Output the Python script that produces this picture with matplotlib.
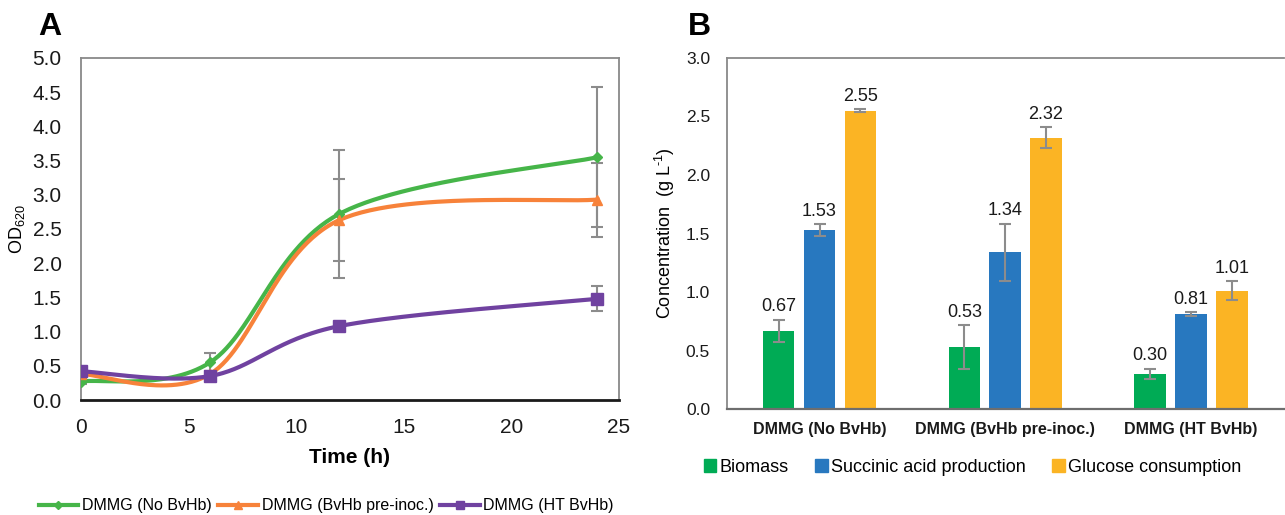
import numpy as np
import matplotlib
matplotlib.use("Agg")
import matplotlib.pyplot as plt
from matplotlib.lines import Line2D
from matplotlib.patches import Patch

plt.rcParams["font.family"] = ["Liberation Sans", "DejaVu Sans"]
plt.rcParams["mathtext.fontset"] = "custom"
plt.rcParams["mathtext.rm"] = "Liberation Sans"

# panel A: growth curves
time_h = [0, 6, 12, 24]
od_no = [0.27, 0.55, 2.72, 3.55]
od_no_err = [0.04, 0.13, 0.93, 1.02]
od_pre = [0.38, 0.38, 2.63, 2.93]
od_pre_err = [0.03, 0.03, 0.60, 0.54]
od_ht = [0.42, 0.35, 1.08, 1.48]
od_ht_err = [0.05, 0.02, 0.03, 0.18]
series_names = ["DMMG (No BvHb)", "DMMG (BvHb pre-inoc.)", "DMMG (HT BvHb)"]

# panel B: concentrations
groups = ["DMMG (No BvHb)", "DMMG (BvHb pre-inoc.)", "DMMG (HT BvHb)"]
biomass = [0.67, 0.53, 0.30]
biomass_err = [0.095, 0.19, 0.045]
succinic = [1.53, 1.34, 0.81]
succinic_err = [0.05, 0.245, 0.015]
glucose = [2.55, 2.32, 1.01]
glucose_err = [0.01, 0.09, 0.08]
bar_names = ["Biomass", "Succinic acid production", "Glucose consumption"]

GREEN_L, ORANGE_L, PURPLE_L = "#46B549", "#F7823A", "#7042A0"
GREEN_B, BLUE_B, YELLOW_B = "#00AB55", "#2878BF", "#FBB424"
ERR = "#8C8C8C"
SPINE = "#898989"


def smooth(xs, ys, n=60):
    # excel-like smoothed line: bezier through points, catmull-rom controls
    p = np.column_stack([xs, ys]).astype(float)
    ext = np.vstack([p[0], p, p[-1]])
    out = []
    for i in range(len(p) - 1):
        p0, p1 = ext[i + 1], ext[i + 2]
        c1 = p0 + (ext[i + 2] - ext[i]) / 6
        c2 = p1 - (ext[i + 3] - ext[i + 1]) / 6
        t = np.linspace(0, 1, n)[:, None]
        seg = ((1 - t) ** 3 * p0 + 3 * (1 - t) ** 2 * t * c1
               + 3 * (1 - t) * t ** 2 * c2 + t ** 3 * p1)
        out.append(seg)
    out = np.vstack(out)
    return out[:, 0], out[:, 1]


fig = plt.figure(figsize=(12.85, 5.15), dpi=100)

# ---- panel A
axA = fig.add_axes([0.063, 0.2233, 0.4187, 0.6641])
specs = [(od_no, od_no_err, GREEN_L, "D", 5),
         (od_pre, od_pre_err, ORANGE_L, "^", 7),
         (od_ht, od_ht_err, PURPLE_L, "s", 8)]
handles = []
for (ys, es, col, mk, ms), name in zip(specs, series_names):
    axA.errorbar(time_h, ys, yerr=es, fmt="none", ecolor=ERR, elinewidth=1.5,
                 capsize=4, capthick=1.5, zorder=2)
    sx, sy = smooth(time_h, ys)
    axA.plot(sx, sy, color=col, lw=3, zorder=3)
    axA.plot(time_h, ys, ls="none", marker=mk, ms=ms, color=col, zorder=4)
    handles.append(Line2D([], [], color=col, lw=3, marker=mk, ms=ms * 0.8))

axA.set_xlim(0, 25)
axA.set_ylim(0, 5)
axA.set_xticks(range(0, 26, 5))
axA.set_yticks(np.arange(0, 5.01, 0.5))
axA.set_yticklabels([f"{v:.1f}" for v in np.arange(0, 5.01, 0.5)])
axA.tick_params(length=0, labelsize=15, colors="#1a1a1a")
axA.tick_params(axis="y", pad=14)
axA.tick_params(axis="x", pad=13)
for s in ["left", "top", "right"]:
    axA.spines[s].set_color(SPINE)
    axA.spines[s].set_linewidth(1.3)
axA.spines["bottom"].set_color("#1a1a1a")
axA.spines["bottom"].set_linewidth(2)
axA.set_xlabel("Time (h)", fontsize=15, fontweight="bold", labelpad=8)
axA.set_ylabel(r"OD$_{\mathregular{620}}$", fontsize=13)
axA.yaxis.set_label_coords(-0.1, 0.5)
fig.text(0.030, 0.947, "A", fontsize=23, fontweight="bold", va="center")

fig.legend(handles, series_names, loc="center left",
           bbox_to_anchor=(0.025, 0.018), ncol=3, frameon=False,
           fontsize=11.5, handlelength=2.5, handletextpad=0.22,
           columnspacing=0.4, borderaxespad=0)

# ---- panel B
axB = fig.add_axes([0.5655, 0.2058, 0.4335, 0.6816])
x = np.arange(len(groups))
w, off = 0.17, 0.22
for vals, errs, col, k in [(biomass, biomass_err, GREEN_B, -1),
                           (succinic, succinic_err, BLUE_B, 0),
                           (glucose, glucose_err, YELLOW_B, 1)]:
    pos = x + k * off
    axB.bar(pos, vals, width=w, color=col, zorder=2)
    axB.errorbar(pos, vals, yerr=errs, fmt="none", ecolor=ERR, elinewidth=1.5,
                 capsize=4, capthick=1.5, zorder=3)
    for px, v, e in zip(pos, vals, errs):
        axB.annotate(f"{v:.2f}", (px, v + e), xytext=(0, 3),
                     textcoords="offset points", ha="center", va="bottom",
                     fontsize=13, color="#1a1a1a")

axB.set_xlim(-0.5, 2.5)
axB.set_ylim(0, 3)
axB.set_xticks(x)
axB.set_xticklabels(groups, fontsize=11.5, fontweight="bold")
axB.set_yticks(np.arange(0, 3.01, 0.5))
axB.set_yticklabels([f"{v:.1f}" for v in np.arange(0, 3.01, 0.5)])
axB.tick_params(length=0, labelsize=12.5, colors="#1a1a1a")
axB.tick_params(axis="y", pad=12)
axB.tick_params(axis="x", pad=9, labelsize=11.5)
axB.spines["right"].set_visible(False)
for s in ["left", "top"]:
    axB.spines[s].set_color(SPINE)
    axB.spines[s].set_linewidth(1.3)
axB.spines["bottom"].set_color("#6e6e6e")
axB.spines["bottom"].set_linewidth(1.6)
axB.set_ylabel(r"Concentration  (g L$^{\mathregular{\text{-}1}}$)",
               fontsize=13, labelpad=6)
fig.text(0.535, 0.947, "B", fontsize=23, fontweight="bold", va="center")

bar_handles = [Patch(color=c) for c in [GREEN_B, BLUE_B, YELLOW_B]]
axB.legend(bar_handles, bar_names, loc="center left",
           bbox_to_anchor=(0.542, 0.093), bbox_transform=fig.transFigure,
           ncol=3, frameon=False, fontsize=13, handlelength=0.7,
           handleheight=0.7, handletextpad=0.15, columnspacing=1.5,
           borderaxespad=0)

fig.savefig("out.png", dpi=100)
